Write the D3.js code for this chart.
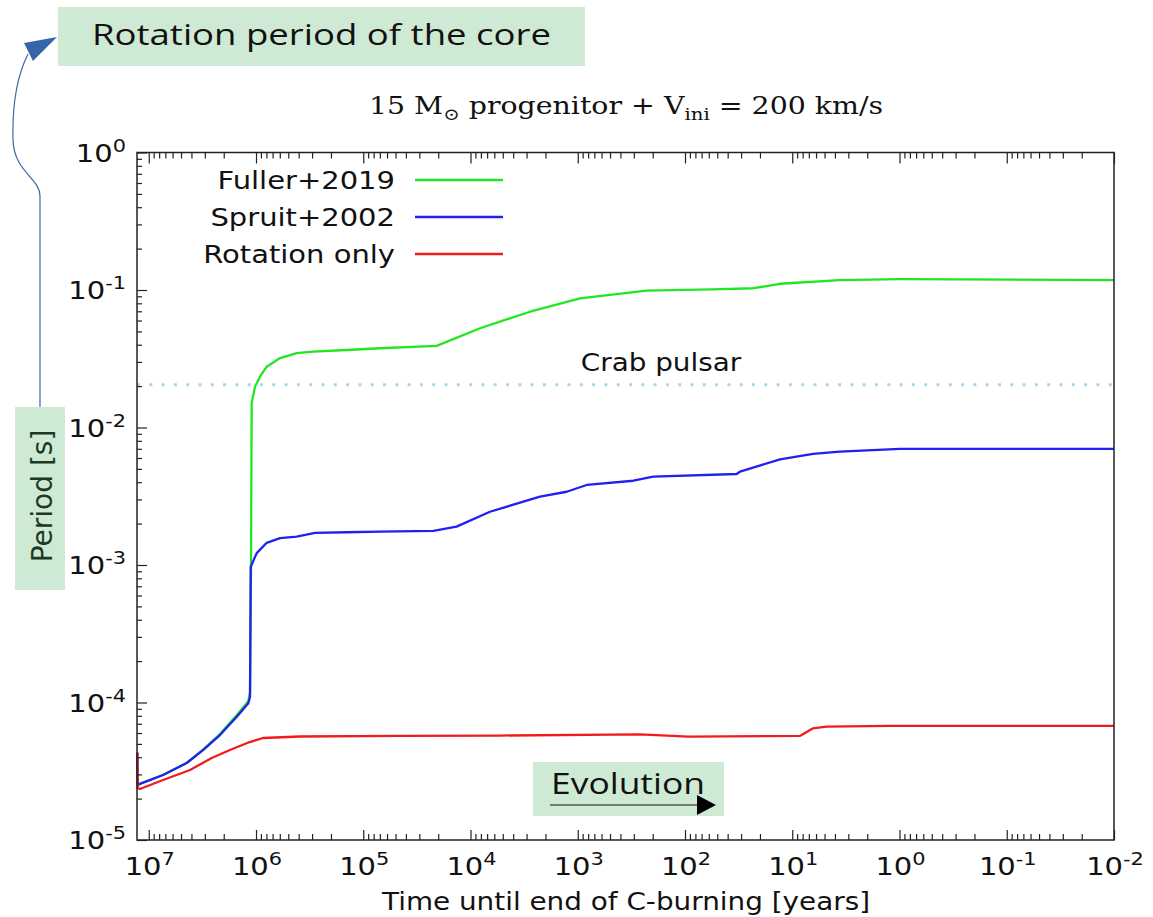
<!DOCTYPE html>
<html>
<head>
<meta charset="utf-8">
<script src="https://cdn.jsdelivr.net/npm/d3@7"></script>
<style>
  body { margin: 0; background: #fff; }
  svg { display: block; }
</style>
</head>
<body>
<svg></svg>
<script>
'use strict';

const svgWidth = 1153;
const svgHeight = 917;

// [time until end of C-burning (years), core rotation period (s)]
const fuller2019 = [
  [1.28e7, 4.32e-5], [1.27e7, 2.51e-5], [1.21e7, 2.56e-5], [7.36e6, 2.97e-5],
  [4.43e6, 3.63e-5], [3.12e6, 4.55e-5], [2.17e6, 5.9e-5], [1.51e6, 8.1e-5],
  [1.18e6, 1.02e-4], [1.137e6, 1.19e-4], [1.113e6, 9.83e-4], [1.102e6, 6.86e-3],
  [1.097e6, 1.51e-2], [1.022e6, 1.98e-2], [9.18e5, 2.34e-2], [7.95e5, 2.77e-2],
  [5.97e5, 3.20e-2], [4.17e5, 3.48e-2], [2.94e5, 3.56e-2], [1.43e5, 3.66e-2],
  [6.98e4, 3.77e-2], [2.07e4, 3.92e-2], [8.15e3, 5.27e-2], [2.79e3, 6.95e-2],
  [953, 8.70e-2], [228, 9.88e-2], [55, 0.101], [23, 0.103], [13, 0.111],
  [3.6, 0.118], [0.99, 0.120], [0.01, 0.118]
];

const spruit2002 = [
  [1.28e7, 4.32e-5], [1.27e7, 2.51e-5], [1.21e7, 2.56e-5], [7.36e6, 2.97e-5],
  [4.43e6, 3.63e-5], [3.12e6, 4.51e-5], [2.17e6, 5.80e-5], [1.51e6, 7.88e-5],
  [1.18e6, 9.87e-5], [1.137e6, 1.10e-4], [1.12e6, 9.72e-4], [9.85e5, 1.22e-3],
  [7.95e5, 1.45e-3], [5.97e5, 1.57e-3], [4.17e5, 1.61e-3], [2.82e5, 1.71e-3],
  [1.43e5, 1.73e-3], [6.98e4, 1.75e-3], [2.22e4, 1.77e-3], [1.35e4, 1.90e-3],
  [6.58e3, 2.44e-3], [2.25e3, 3.14e-3], [1.27e3, 3.41e-3], [825, 3.82e-3],
  [303, 4.10e-3], [198, 4.39e-3], [33, 4.59e-3], [30.7, 4.77e-3], [13, 5.87e-3],
  [6.4, 6.42e-3], [3.6, 6.67e-3], [0.99, 6.98e-3], [0.01, 6.98e-3]
];

const rotationOnly = [
  [1.28e7, 4.32e-5], [1.27e7, 2.39e-5], [1.21e7, 2.35e-5], [7.36e6, 2.73e-5],
  [4.12e6, 3.23e-5], [2.59e6, 3.95e-5], [1.75e6, 4.51e-5], [1.19e6, 5.10e-5],
  [8.6e5, 5.52e-5], [3.9e5, 5.66e-5], [4.5e4, 5.71e-5], [5.3e3, 5.75e-5],
  [263, 5.87e-5], [93, 5.64e-5], [8.5, 5.71e-5], [6.4, 6.49e-5], [4.8, 6.67e-5],
  [1.23, 6.75e-5], [0.01, 6.75e-5]
];

const crabPeriod = 0.0205;

const seriesNames = ['Fuller+2019', 'Spruit+2002', 'Rotation only'];
const seriesColors = ['#22e622', '#2020f0', '#f01c1c'];
const seriesData = [fuller2019, spruit2002, rotationOnly];

const xDecades = [7, 6, 5, 4, 3, 2, 1, 0, -1, -2];
const yDecades = [0, -1, -2, -3, -4, -5];

const margin = { left: 137, right: 1114, top: 152.5, bottom: 840 };
const stretch = 1.16; // gnuplot text in the figure is a bit wide

const svg = d3.select('svg')
  .attr('width', svgWidth)
  .attr('height', svgHeight)
  .style('background', '#fff');

const x = d3.scaleLog()
  .domain([1.287e7, 0.01])
  .range([margin.left, margin.right]);

const y = d3.scaleLog()
  .domain([1e-5, 1])
  .range([margin.bottom, margin.top]);

function wideText(parent, px, py) {
  return parent.append('text')
    .attr('transform', `translate(${px},${py}) scale(${stretch},1)`);
}

function isMajor(v) {
  return Math.abs(Math.log10(v) - Math.round(Math.log10(v))) < 1e-6;
}

const xMinor = x.ticks().filter(v => !isMajor(v));
const xMajor = xDecades.map(d => Math.pow(10, d)).filter(v => x(v) >= margin.left - 0.5);
const yMinor = y.ticks().filter(v => !isMajor(v));
const yMajor = yDecades.map(d => Math.pow(10, d));

// crab pulsar reference
svg.append('line')
  .attr('x1', margin.left)
  .attr('x2', margin.right)
  .attr('y1', y(crabPeriod))
  .attr('y2', y(crabPeriod))
  .attr('stroke', '#a9d6e8')
  .attr('stroke-width', 3)
  .attr('stroke-dasharray', '3 9.3');

wideText(svg, 661, 371)
  .attr('text-anchor', 'middle')
  .attr('font-family', 'DejaVu Sans')
  .attr('font-size', 24)
  .attr('fill', '#111')
  .text('Crab pulsar');

// curves
const line = d3.line()
  .x(d => x(d[0]))
  .y(d => y(d[1]));

svg.append('g')
  .attr('fill', 'none')
  .attr('stroke-width', 2.3)
  .attr('stroke-linejoin', 'round')
  .selectAll('path')
  .data(seriesData)
  .join('path')
  .attr('stroke', (d, i) => seriesColors[i])
  .attr('d', line);

// axes: ticks point into the plot, x ticks mirrored on top
const axisG = svg.append('g')
  .attr('font-family', 'DejaVu Sans');

function tickAxis(axis, tx, ty) {
  const g = axisG.append('g')
    .attr('transform', `translate(${tx},${ty})`)
    .call(axis.tickFormat('').tickSizeOuter(0));
  g.select('.domain').remove();
  g.selectAll('.tick line').attr('stroke', '#222').attr('stroke-width', 1.2);
  return g;
}

tickAxis(d3.axisBottom(x).tickValues(xMinor).tickSizeInner(-6), 0, margin.bottom);
tickAxis(d3.axisBottom(x).tickValues(xMajor).tickSizeInner(-10), 0, margin.bottom);
tickAxis(d3.axisTop(x).tickValues(xMinor).tickSizeInner(-6), 0, margin.top);
tickAxis(d3.axisTop(x).tickValues(xMajor).tickSizeInner(-11), 0, margin.top);
tickAxis(d3.axisLeft(y).tickValues(yMinor).tickSizeInner(-5), margin.left, 0);
tickAxis(d3.axisLeft(y).tickValues(yMajor).tickSizeInner(-10), margin.left, 0);

axisG.append('rect')
  .attr('x', margin.left)
  .attr('y', margin.top)
  .attr('width', margin.right - margin.left)
  .attr('height', margin.bottom - margin.top)
  .attr('fill', 'none')
  .attr('stroke', '#222')
  .attr('stroke-width', 1.5);

function powerLabel(t, v) {
  t.append('tspan').text('10');
  t.append('tspan')
    .attr('dy', -10)
    .attr('font-size', 18)
    .text(String(Math.round(Math.log10(v))));
}

xMajor.forEach(v => {
  const t = wideText(axisG, x(v) + 1, 875)
    .attr('text-anchor', 'middle')
    .attr('font-size', 25)
    .attr('fill', '#111');
  powerLabel(t, v);
});

yMajor.forEach(v => {
  const t = wideText(axisG, 126, y(v) + 9)
    .attr('text-anchor', 'end')
    .attr('font-size', 25)
    .attr('fill', '#111');
  powerLabel(t, v);
});

wideText(axisG, 626, 910)
  .attr('text-anchor', 'middle')
  .attr('font-size', 24)
  .attr('fill', '#111')
  .text('Time until end of C-burning [years]');

// legend
const legendRows = [180, 217, 254];
const legendG = svg.append('g')
  .attr('font-family', 'DejaVu Sans');

seriesNames.forEach((name, i) => {
  wideText(legendG, 395, legendRows[i] + 9)
    .attr('text-anchor', 'end')
    .attr('font-size', 25)
    .attr('fill', '#111')
    .text(name);
  legendG.append('line')
    .attr('x1', 415)
    .attr('x2', 503)
    .attr('y1', legendRows[i])
    .attr('y2', legendRows[i])
    .attr('stroke', seriesColors[i])
    .attr('stroke-width', 2.3);
});

// title
const title = wideText(svg, 626, 114)
  .attr('text-anchor', 'middle')
  .attr('font-family', 'DejaVu Serif')
  .attr('font-size', 24.5)
  .attr('fill', '#111');
title.append('tspan').text('15 M');
title.append('tspan').attr('dy', 6).attr('font-size', 17).text('\u2299');
title.append('tspan').attr('dy', -6).text(' progenitor + V');
title.append('tspan').attr('dy', 6).attr('font-size', 17).text('ini');
title.append('tspan').attr('dy', -6).text(' = 200 km/s');

// annotations
const noteFont = 'Open Sans';

svg.append('rect')
  .attr('x', 58).attr('y', 7)
  .attr('width', 527).attr('height', 59)
  .attr('fill', '#cfead4');

svg.append('text')
  .attr('x', 92).attr('y', 45)
  .attr('font-family', noteFont)
  .attr('font-size', 29)
  .attr('textLength', 459)
  .attr('lengthAdjust', 'spacingAndGlyphs')
  .attr('fill', '#111')
  .text('Rotation period of the core');

svg.append('path')
  .attr('d', 'M40,407 L40,196 C40,178 14,172 13,140 C12,102 17,76 28,54')
  .attr('fill', 'none')
  .attr('stroke', '#3a67aa')
  .attr('stroke-width', 1.2);

svg.append('path')
  .attr('d', 'M57,37 L24,43 L33,61 Z')
  .attr('fill', '#3565a8');

svg.append('rect')
  .attr('x', 15).attr('y', 407)
  .attr('width', 50).attr('height', 183)
  .attr('fill', '#cfead4');

svg.append('text')
  .attr('transform', 'translate(52,496) rotate(-90)')
  .attr('text-anchor', 'middle')
  .attr('font-family', 'DejaVu Sans')
  .attr('font-size', 28)
  .attr('fill', '#1e3823')
  .text('Period [s]');

svg.append('rect')
  .attr('x', 533).attr('y', 762)
  .attr('width', 191).attr('height', 54)
  .attr('fill', '#cfead4');

svg.append('text')
  .attr('x', 551).attr('y', 794)
  .attr('font-family', noteFont)
  .attr('font-size', 29)
  .attr('textLength', 154)
  .attr('lengthAdjust', 'spacingAndGlyphs')
  .attr('fill', '#111')
  .text('Evolution');

svg.append('line')
  .attr('x1', 550).attr('x2', 700)
  .attr('y1', 805).attr('y2', 805)
  .attr('stroke', '#111')
  .attr('stroke-width', 1.2);

svg.append('path')
  .attr('d', 'M697,795 L716,805 L697,815 Z')
  .attr('fill', '#000');
</script>
</body>
</html>
